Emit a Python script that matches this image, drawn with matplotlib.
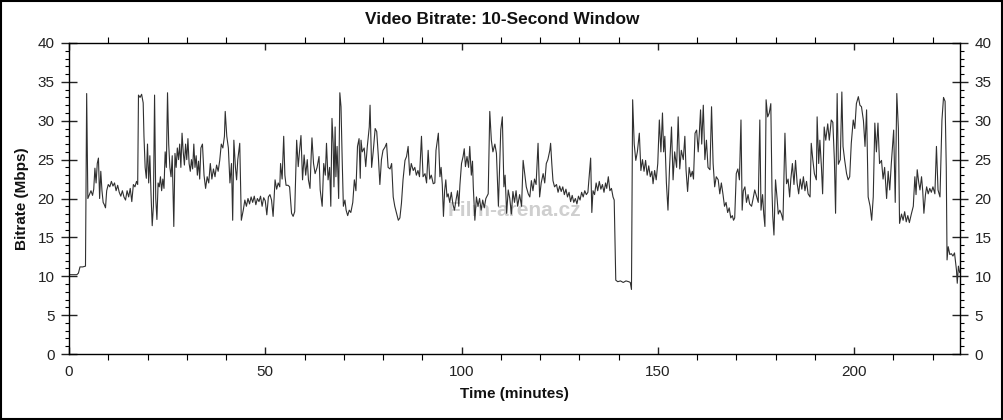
import matplotlib
matplotlib.use("Agg")
import matplotlib.pyplot as plt
from matplotlib.ticker import MultipleLocator
from matplotlib.patches import Rectangle

plt.rcParams['font.family'] = ['Liberation Sans', 'DejaVu Sans']

title = "Video Bitrate: 10-Second Window"
x_label = "Time (minutes)"
y_label = "Bitrate (Mbps)"
x_ticks = [0, 50, 100, 150, 200]
y_ticks = [0, 5, 10, 15, 20, 25, 30, 35, 40]

# (minutes, Mbps)
points = [
    (0, 10.2), (1, 10.2), (2, 10.2), (2.4, 10.4), (2.8, 11.2), (3.5, 11.2), (4.2, 11.3), (4.5, 33.5),
    (4.8, 20.0), (5.2, 20.5), (5.6, 21.0), (6.0, 20.4), (6.3, 21.2), (6.6, 23.9), (6.9, 22.0), (7.2, 24.5),
    (7.5, 25.2), (7.8, 20.0), (8.1, 23.5), (8.4, 21.0), (8.7, 19.5), (9.0, 19.2), (9.3, 18.8), (9.6, 21.0),
    (10.0, 21.8), (10.4, 21.5), (10.8, 22.2), (11.2, 21.6), (11.6, 22.0), (12.0, 21.0), (12.4, 21.7),
    (12.8, 20.8), (13.2, 20.3), (13.6, 21.0), (14.0, 20.2), (14.4, 19.8), (14.8, 21.0), (15.2, 20.2),
    (15.6, 21.3), (16.0, 19.6), (16.4, 21.8), (16.8, 21.5), (17.2, 22.2), (17.5, 21.8), (17.7, 33.3),
    (18.1, 33.0), (18.5, 33.4), (18.9, 32.3), (19.1, 28.0), (19.4, 24.0), (19.7, 22.6), (20.0, 27.0),
    (20.3, 22.0), (20.6, 25.5), (20.9, 20.5), (21.2, 16.5), (21.5, 19.0), (21.8, 33.3), (22.1, 20.0),
    (22.4, 17.3), (22.7, 22.0), (23.0, 21.5), (23.3, 22.8), (23.6, 21.0), (23.9, 22.5), (24.2, 21.3),
    (24.5, 26.0), (24.8, 24.0), (25.1, 33.6), (25.4, 27.0), (25.7, 24.0), (26.0, 22.8), (26.3, 25.5),
    (26.7, 16.4), (27.0, 25.8), (27.3, 24.0), (27.6, 26.5), (27.9, 25.0), (28.2, 27.0), (28.5, 24.0),
    (28.8, 28.4), (29.1, 26.0), (29.4, 24.3), (29.7, 27.0), (30.0, 25.0), (30.3, 27.7), (30.6, 24.5),
    (30.9, 23.5), (31.2, 25.0), (31.5, 23.8), (31.8, 27.0), (32.1, 24.0), (32.4, 25.5), (32.7, 23.0),
    (33.0, 24.8), (33.3, 22.5), (33.6, 26.5), (34.0, 27.0), (34.4, 23.0), (34.8, 21.3), (35.2, 22.8),
    (35.6, 22.0), (36.0, 24.5), (36.4, 22.5), (36.8, 23.8), (37.2, 22.8), (37.6, 24.3), (38.0, 23.5),
    (38.4, 24.9), (38.8, 27.0), (39.2, 26.5), (39.6, 28.0), (39.8, 31.2), (40.2, 28.0), (40.6, 26.5),
    (41.0, 22.0), (41.4, 24.5), (41.7, 17.2), (42.0, 27.5), (42.4, 24.0), (42.7, 22.4), (43.0, 25.0),
    (43.5, 27.1), (43.9, 17.2), (44.4, 18.5), (44.8, 19.8), (45.2, 19.0), (45.6, 20.0), (46.0, 19.3),
    (46.4, 20.2), (46.8, 19.5), (47.2, 20.3), (47.6, 19.2), (48.0, 20.0), (48.4, 19.6), (48.8, 20.3),
    (49.2, 19.0), (49.6, 20.1), (50.0, 19.7), (50.4, 17.9), (50.8, 20.2), (51.2, 20.5), (51.6, 19.8),
    (52.0, 17.7), (52.5, 22.4), (52.9, 21.2), (53.3, 22.0), (53.7, 21.5), (53.9, 24.5), (54.3, 22.5),
    (54.7, 28.0), (55.0, 23.0), (55.3, 21.7), (55.8, 21.7), (56.2, 21.5), (56.7, 18.1), (57.1, 17.7),
    (57.5, 18.3), (58.0, 27.5), (58.4, 24.1), (58.8, 26.5), (59.1, 28.1), (59.5, 22.4), (59.9, 25.6),
    (60.3, 23.0), (60.7, 25.0), (61.0, 22.4), (61.4, 21.3), (61.7, 25.5), (61.9, 27.8), (62.3, 24.5),
    (62.7, 23.2), (63.2, 24.0), (63.7, 25.4), (64.0, 21.1), (64.5, 19.0), (64.9, 24.5), (65.3, 23.0),
    (65.6, 27.1), (66.0, 22.4), (66.4, 24.0), (66.7, 19.0), (67.0, 30.3), (67.3, 27.1), (67.5, 21.5),
    (67.8, 29.2), (68.0, 22.8), (68.3, 26.7), (68.7, 20.0), (69.0, 33.6), (69.3, 31.8), (69.6, 25.0),
    (69.9, 19.0), (70.3, 19.8), (70.6, 18.5), (71.0, 17.8), (71.4, 18.5), (71.8, 18.2), (72.3, 19.5),
    (72.7, 22.4), (73.1, 21.0), (73.5, 26.7), (73.9, 27.7), (74.2, 22.6), (74.4, 27.5), (74.7, 26.0),
    (75.2, 26.5), (75.6, 24.1), (76.0, 26.7), (76.5, 29.2), (76.7, 32.0), (77.1, 24.0), (77.5, 26.0),
    (78.0, 29.0), (78.4, 28.6), (78.8, 25.5), (79.2, 21.8), (79.6, 25.0), (80.0, 26.2), (80.5, 26.6),
    (80.9, 27.1), (81.3, 24.0), (81.8, 23.8), (82.2, 24.5), (82.6, 20.2), (83.0, 19.0), (83.5, 18.0),
    (83.9, 17.2), (84.3, 17.5), (84.7, 19.4), (85.1, 22.4), (85.6, 24.9), (86.0, 25.4), (86.4, 26.7),
    (86.8, 23.0), (87.2, 24.5), (87.7, 23.6), (88.1, 24.0), (88.5, 23.0), (88.9, 23.6), (89.3, 22.8),
    (89.8, 28.0), (90.2, 22.8), (90.7, 23.2), (91.1, 22.0), (91.5, 26.2), (91.9, 22.5), (92.3, 23.0),
    (92.8, 21.9), (93.2, 22.0), (93.5, 26.2), (94.1, 28.4), (94.5, 22.8), (94.8, 24.0), (95.1, 21.8),
    (95.4, 17.7), (95.7, 21.0), (96.0, 22.4), (96.3, 20.2), (96.6, 20.6), (97.0, 19.5), (97.4, 20.8),
    (97.8, 19.3), (98.2, 18.5), (98.6, 19.8), (99.0, 21.0), (99.3, 19.0), (99.6, 21.8), (100.0, 24.5),
    (100.4, 25.4), (100.7, 26.4), (101.0, 24.1), (101.4, 25.4), (101.8, 24.0), (102.1, 26.7), (102.5, 23.0),
    (102.8, 24.8), (103.0, 21.5), (103.4, 17.2), (103.8, 20.2), (104.2, 19.0), (104.6, 20.0), (105.0, 18.5),
    (105.4, 19.8), (105.8, 18.8), (106.2, 20.0), (106.8, 20.6), (107.2, 31.2), (107.6, 27.5), (108.0, 26.0),
    (108.5, 27.0), (108.9, 25.8), (109.4, 19.0), (110.0, 28.8), (110.4, 30.5), (110.8, 21.5), (111.1, 23.0),
    (111.5, 18.1), (111.9, 21.1), (112.3, 20.0), (112.7, 18.0), (113.1, 20.9), (113.5, 19.5), (113.9, 21.0),
    (114.3, 19.0), (114.8, 20.5), (115.3, 19.0), (115.7, 24.9), (116.1, 23.2), (116.5, 21.5), (117.0, 20.6),
    (117.4, 20.2), (117.8, 22.3), (118.2, 21.0), (118.6, 22.5), (119.0, 21.8), (119.5, 27.1), (119.9, 20.2),
    (120.3, 22.0), (120.8, 23.2), (121.2, 22.0), (121.6, 24.5), (122.0, 25.0), (122.5, 26.2), (122.7, 27.1),
    (123.0, 24.5), (123.3, 22.3), (123.7, 21.5), (124.2, 21.8), (124.6, 20.8), (125.0, 21.6), (125.4, 20.9),
    (125.8, 21.5), (126.2, 20.5), (126.6, 21.2), (127.0, 20.2), (127.4, 20.8), (127.8, 19.6), (128.2, 20.4),
    (128.6, 19.5), (129.0, 20.0), (129.4, 19.3), (129.8, 20.3), (130.2, 19.8), (130.6, 20.8), (131.0, 20.2),
    (131.4, 21.0), (131.8, 20.5), (132.2, 20.8), (132.7, 24.0), (132.9, 25.2), (133.2, 18.2), (133.5, 21.0),
    (133.9, 20.5), (134.3, 22.0), (134.7, 21.0), (135.1, 22.2), (135.5, 21.2), (135.9, 21.8), (136.3, 20.8),
    (136.7, 22.0), (137.0, 21.3), (137.4, 22.8), (137.8, 21.0), (138.2, 21.3), (138.6, 20.2), (138.9, 19.8),
    (139.3, 9.5), (139.8, 9.3), (140.5, 9.4), (141.2, 9.2), (141.9, 9.4), (142.6, 9.3), (143.0, 9.2),
    (143.3, 8.3), (143.6, 32.7), (144.0, 27.0), (144.4, 24.9), (144.8, 26.0), (145.3, 28.4), (145.7, 23.6),
    (146.1, 25.0), (146.5, 23.5), (146.9, 24.9), (147.3, 23.0), (147.7, 24.2), (148.1, 22.8), (148.5, 23.5),
    (148.8, 21.9), (149.2, 23.6), (149.6, 22.4), (150.0, 24.5), (150.4, 30.1), (150.8, 26.0), (151.2, 31.0),
    (151.5, 26.0), (151.8, 28.0), (152.2, 22.0), (152.6, 18.5), (153.0, 24.0), (153.5, 29.2), (153.9, 22.4),
    (154.3, 26.0), (154.8, 24.0), (155.2, 30.5), (155.6, 23.8), (156.0, 26.2), (156.5, 25.0), (156.9, 28.0),
    (157.2, 23.7), (157.6, 20.9), (158.0, 24.0), (158.4, 22.8), (158.8, 23.5), (159.1, 22.5), (159.5, 28.4),
    (159.9, 28.8), (160.3, 26.0), (160.6, 28.5), (160.9, 31.4), (161.2, 27.0), (161.6, 32.0), (162.0, 25.0),
    (162.4, 27.5), (162.8, 24.0), (163.3, 23.7), (163.7, 31.8), (164.1, 24.5), (164.5, 21.5), (164.9, 22.8),
    (165.4, 22.4), (165.8, 20.6), (166.2, 22.0), (166.6, 20.6), (167.0, 19.0), (167.4, 19.5), (167.8, 18.2),
    (168.2, 18.8), (168.6, 17.5), (169.0, 17.8), (169.3, 17.2), (169.6, 17.5), (170.0, 23.2), (170.4, 23.8),
    (170.8, 22.4), (171.2, 30.1), (171.5, 18.5), (171.8, 21.0), (172.2, 21.5), (172.6, 19.5), (173.0, 20.5),
    (173.4, 19.3), (173.9, 19.0), (174.3, 20.0), (174.7, 21.1), (175.2, 20.2), (175.6, 19.5), (176.0, 30.1),
    (176.3, 18.5), (176.7, 20.5), (177.0, 18.0), (177.3, 16.4), (177.6, 32.7), (178.0, 30.5), (178.4, 31.0),
    (178.8, 32.2), (179.1, 21.0), (179.3, 17.7), (179.6, 15.3), (180.0, 22.4), (180.4, 20.0), (180.7, 18.0),
    (181.1, 18.5), (181.5, 18.0), (181.9, 17.2), (182.4, 28.4), (182.8, 21.9), (183.2, 22.5), (183.6, 20.2),
    (183.9, 22.5), (184.3, 24.5), (184.7, 21.8), (185.1, 24.9), (185.5, 22.0), (185.9, 20.6), (186.3, 22.5),
    (186.7, 21.2), (187.1, 22.8), (187.5, 21.0), (187.9, 22.2), (188.3, 20.6), (188.8, 20.2), (189.1, 27.1),
    (189.5, 25.0), (189.9, 23.2), (190.4, 22.4), (190.6, 30.5), (191.0, 24.5), (191.3, 27.5), (191.7, 24.0),
    (192.0, 20.6), (192.4, 29.2), (192.8, 27.5), (193.3, 29.6), (193.7, 27.5), (194.2, 30.1), (194.6, 29.8),
    (195.0, 24.9), (195.3, 18.1), (195.7, 33.5), (196.0, 24.4), (196.5, 25.0), (196.9, 33.7), (197.2, 26.7),
    (197.6, 25.0), (198.1, 23.2), (198.5, 22.4), (198.9, 22.8), (199.3, 27.1), (199.8, 30.1), (200.2, 29.0),
    (200.6, 32.2), (201.1, 33.1), (201.5, 32.0), (201.9, 31.8), (202.4, 30.0), (202.8, 26.7), (203.2, 31.4),
    (203.6, 20.2), (204.1, 19.0), (204.5, 17.2), (204.9, 20.2), (205.3, 29.7), (205.7, 26.0), (206.1, 29.7),
    (206.5, 24.5), (207.0, 24.9), (207.4, 22.5), (207.8, 24.0), (208.3, 20.0), (208.7, 23.5), (209.1, 21.1),
    (209.5, 24.5), (210.1, 28.8), (210.5, 19.5), (210.9, 33.5), (211.3, 29.0), (211.6, 16.8), (212.1, 18.0),
    (212.5, 17.2), (212.9, 18.3), (213.3, 17.0), (213.7, 17.8), (214.1, 16.9), (214.6, 18.0), (215.1, 19.0),
    (215.5, 22.8), (215.8, 20.5), (216.1, 23.7), (216.5, 22.0), (216.8, 21.1), (217.2, 22.8), (217.5, 21.0),
    (217.8, 18.1), (218.2, 20.5), (218.5, 21.5), (218.9, 20.6), (219.3, 21.3), (219.7, 20.8), (220.1, 21.5),
    (220.6, 20.6), (221.0, 26.7), (221.4, 21.1), (221.9, 20.2), (222.4, 30.1), (222.8, 33.0), (223.2, 32.5),
    (223.5, 24.0), (223.7, 12.1), (224.0, 13.8), (224.4, 12.8), (224.8, 12.9), (225.2, 12.6), (225.6, 13.0),
    (226.1, 10.8), (226.3, 9.1), (226.6, 11.3), (226.9, 10.5),
]
minutes = [p[0] for p in points]
bitrate = [p[1] for p in points]

fig = plt.figure(figsize=(10.04, 4.20), dpi=100)
fig.patch.set_facecolor('white')
ax = fig.add_axes([69/1004, 1 - 354/420, (960 - 69)/1004, (354 - 43)/420])

ax.text(0.5, 0.46, "Film-arena.cz", transform=ax.transAxes, ha='center', va='center',
        fontsize=15, fontweight='bold', color='#cfcfcf', zorder=0)

ax.plot(minutes, bitrate, color='#303030', lw=0.8, zorder=2)

ax.set_xlim(0, 227)
ax.set_ylim(0, 40)
ax.set_xticks(x_ticks)
ax.set_yticks(y_ticks)
ax.xaxis.set_minor_locator(MultipleLocator(10))
ax.yaxis.set_minor_locator(MultipleLocator(1))

ax.tick_params(axis='x', which='major', direction='in', length=5, width=1, top=True, bottom=True,
               labelsize=11, colors='#222222', pad=8)
ax.tick_params(axis='x', which='minor', direction='out', length=4, width=0.8, top=True, bottom=True)
ax.tick_params(axis='y', which='major', direction='inout', length=11, width=1, left=True, right=True,
               labelleft=True, labelright=True, labelsize=11, colors='#222222', pad=5)
ax.tick_params(axis='y', which='minor', direction='out', length=3, width=0.8, left=True, right=True)

for s in ax.spines.values():
    s.set_color('black')
    s.set_linewidth(1.0)

fig.text(0.5, 1 - 20/420, title, ha='center', va='center', fontsize=12.4, fontweight='bold', color='#111111')
ax.set_xlabel(x_label, fontsize=11, fontweight='bold', color='#111111', labelpad=6)
ax.set_ylabel(y_label, fontsize=11, fontweight='bold', color='#111111', labelpad=6)

fig.patches.append(Rectangle((0.001, 0.002), 0.997, 0.996, transform=fig.transFigure,
                             fill=False, edgecolor='black', lw=1.5))

fig.savefig("out.png", dpi=100, facecolor='white')
